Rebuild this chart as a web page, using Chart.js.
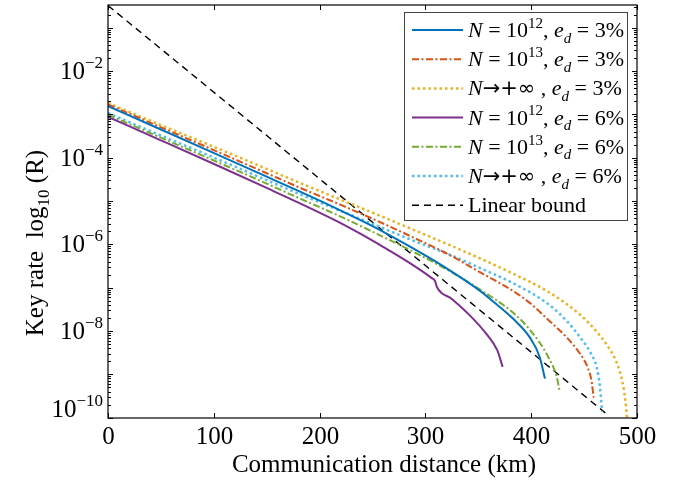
<!DOCTYPE html>
<html>
<head>
<meta charset="utf-8">
<script src="https://cdn.jsdelivr.net/npm/chart.js"></script>
<style>
  html, body { margin: 0; padding: 0; background: #fff; }
  canvas { display: block; }
</style>
</head>
<body>
<canvas id="keyRate" width="685" height="483"></canvas>
<script>
// distances (km) and log10 of key rate
const distBlue = [0, 50, 106, 150, 181, 219, 250, 288, 323, 352, 364, 383, 399, 408, 413];
const logBlue = [-2.81, -3.35, -3.96, -4.44, -4.78, -5.21, -5.58, -6.09, -6.60, -7.08, -7.32, -7.72, -8.16, -8.60, -9.10];

const distRed = [0, 50, 106, 150, 181, 219, 260, 290, 323, 352, 383, 400, 415, 434, 446, 453, 457, 459];
const logRed = [-2.77, -3.30, -3.89, -4.36, -4.69, -5.08, -5.52, -5.86, -6.25, -6.65, -7.08, -7.38, -7.72, -8.16, -8.52, -8.82, -9.15, -9.54];

const distOrange = [0, 50, 106, 150, 181, 219, 260, 290, 323, 352, 383, 415, 446, 462, 472, 481, 486, 489, 491];
const logOrange = [-2.74, -3.25, -3.81, -4.26, -4.58, -4.96, -5.37, -5.68, -6.02, -6.33, -6.68, -7.08, -7.62, -8.02, -8.34, -8.74, -9.15, -9.60, -10.1];

const distPurple = [0, 50, 106, 150, 181, 219, 238, 260, 285, 306, 309, 311, 325, 342, 358, 368, 373];
const logPurple = [-3.06, -3.60, -4.21, -4.70, -5.05, -5.50, -5.75, -6.06, -6.43, -6.78, -6.84, -6.99, -7.26, -7.64, -8.08, -8.45, -8.83];

const distGreen = [0, 50, 106, 150, 181, 219, 250, 290, 323, 352, 383, 399, 415, 424, 427];
const logGreen = [-3.01, -3.54, -4.13, -4.60, -4.94, -5.35, -5.71, -6.19, -6.62, -7.05, -7.58, -7.98, -8.55, -9.05, -9.40];

const distCyan = [0, 50, 106, 150, 181, 219, 260, 290, 323, 352, 383, 415, 434, 446, 456, 462, 465, 467];
const logCyan = [-2.97, -3.49, -4.06, -4.52, -4.84, -5.22, -5.63, -5.93, -6.24, -6.55, -6.90, -7.36, -7.78, -8.14, -8.50, -8.85, -9.30, -9.86];

const distLinear = [0, 470];
const logLinear = [-0.49, -9.89];

const seriesLabels = [
  '{i:N} = 10{sup:12}, {i:e}{isub:d} = 3%',
  '{i:N} = 10{sup:13}, {i:e}{isub:d} = 3%',
  '{i:N}{sym:\u2192+\u221e} , {i:e}{isub:d} = 3%',
  '{i:N} = 10{sup:12}, {i:e}{isub:d} = 6%',
  '{i:N} = 10{sup:13}, {i:e}{isub:d} = 6%',
  '{i:N}{sym:\u2192+\u221e} , {i:e}{isub:d} = 6%',
  'Linear bound'
];

const xTickValues = [0, 100, 200, 300, 400, 500];
const yLabelExps = [-10, -8, -6, -4, -2];

const SERIF = '"Liberation Serif", "DejaVu Serif", serif';

function pts(d, l) {
  return d.map((x, i) => ({x: x, y: Math.pow(10, l[i])}));
}

const dashDot = [7, 2.5, 2, 2.5];
const dotted = [2.5, 3];

const datasets = [
  {data: pts(distBlue, logBlue), borderColor: '#0072BD', borderWidth: 2},
  {data: pts(distRed, logRed), borderColor: '#D95319', borderWidth: 2, borderDash: dashDot},
  {data: pts(distOrange, logOrange), borderColor: '#EDB120', borderWidth: 2.5, borderDash: dotted},
  {data: pts(distPurple, logPurple), borderColor: '#7E2F8E', borderWidth: 2},
  {data: pts(distGreen, logGreen), borderColor: '#77AC30', borderWidth: 2, borderDash: dashDot},
  {data: pts(distCyan, logCyan), borderColor: '#4DBEEE', borderWidth: 2.5, borderDash: dotted},
  {data: pts(distLinear, logLinear), borderColor: '#000000', borderWidth: 1.4, borderDash: [7, 5]}
];
datasets.forEach((ds, i) => {
  ds.label = seriesLabels[i].replace(/\{\w+:([^}]*)\}/g, '$1');
  ds.pointRadius = 0;
  ds.fill = false;
  ds.cubicInterpolationMode = 'monotone';
});

// split "{style:text}" markup into drawable pieces
function parseLabel(s) {
  const out = [];
  const re = /\{(\w+):([^}]*)\}/g;
  let last = 0, m;
  while ((m = re.exec(s))) {
    if (m.index > last) out.push({t: s.slice(last, m.index), k: 'n'});
    out.push({t: m[2], k: m[1]});
    last = re.lastIndex;
  }
  if (last < s.length) out.push({t: s.slice(last), k: 'n'});
  return out;
}

function drawPieces(ctx, pieces, x, y, size, measureOnly) {
  pieces.forEach(p => {
    let font = size + 'px ' + SERIF, dy = 0;
    if (p.k === 'i') font = 'italic ' + size + 'px ' + SERIF;
    if (p.k === 'sym') font = (size - 1) + 'px "DejaVu Sans", sans-serif';
    if (p.k === 'sup') { font = Math.round(size * 0.68) + 'px ' + SERIF; dy = -size * 0.42; }
    if (p.k === 'sub') { font = Math.round(size * 0.68) + 'px ' + SERIF; dy = size * 0.25; }
    if (p.k === 'isub') { font = 'italic ' + Math.round(size * 0.68) + 'px ' + SERIF; dy = size * 0.25; }
    ctx.font = font;
    if (!measureOnly) ctx.fillText(p.t, x, y + dy);
    x += ctx.measureText(p.t).width;
  });
  return x;
}

const framePlugin = {
  id: 'frame',
  afterDraw(chart) {
    const ctx = chart.ctx;
    const a = chart.chartArea;
    const xs = chart.scales.x, ys = chart.scales.y;
    ctx.save();
    ctx.strokeStyle = '#000';
    ctx.fillStyle = '#000';
    ctx.lineWidth = 1.2;
    ctx.setLineDash([]);
    ctx.strokeRect(a.left, a.top, a.right - a.left, a.bottom - a.top);

    function seg(x1, y1, x2, y2) {
      ctx.beginPath(); ctx.moveTo(x1, y1); ctx.lineTo(x2, y2); ctx.stroke();
    }

    // x ticks and labels
    ctx.lineWidth = 1;
    ctx.textAlign = 'center';
    ctx.textBaseline = 'alphabetic';
    ctx.font = '25px ' + SERIF;
    xs.ticks.forEach(t => {
      const px = Math.round(xs.getPixelForValue(t.value)) + 0.5;
      seg(px, a.bottom, px, a.bottom - 5);
      seg(px, a.top, px, a.top + 5);
      ctx.fillText(String(t.value), px, a.bottom + 26);
    });

    // y ticks: decades long, 2..9 short
    for (let e = -11; e <= 0; e++) {
      for (let m = 1; m <= 9; m++) {
        const v = m * Math.pow(10, e);
        if (v < ys.min || v > ys.max) continue;
        const py = Math.round(ys.getPixelForValue(v)) + 0.5;
        const len = m === 1 ? 5 : 3;
        seg(a.left, py, a.left + len, py);
        seg(a.right, py, a.right - len, py);
      }
    }

    // y labels 10^n
    yLabelExps.forEach(e => {
      let py = ys.getPixelForValue(Math.pow(10, e));
      py = Math.min(py, a.bottom - 9);
      const exp = '\u2212' + Math.abs(e);
      ctx.font = '17px ' + SERIF;
      const ew = ctx.measureText(exp).width;
      ctx.font = '25px ' + SERIF;
      const bw = ctx.measureText('10').width;
      const right = a.left - 5;
      ctx.textAlign = 'left';
      ctx.fillText('10', right - ew - bw, py + 8);
      ctx.font = '17px ' + SERIF;
      ctx.fillText(exp, right - ew, py - 3);
    });

    // axis titles
    ctx.textAlign = 'left';
    ctx.font = '25px ' + SERIF;
    const xt = 'Communication distance (km)';
    const xw = ctx.measureText(xt).width;
    ctx.fillText(xt, 384 - xw / 2, 472);

    const yPieces = parseLabel('Key rate  log{sub:10} (R)');
    const yw = drawPieces(ctx, yPieces, 0, 0, 25, true);
    ctx.save();
    ctx.translate(43, 243);
    ctx.rotate(-Math.PI / 2);
    drawPieces(ctx, yPieces, -yw / 2, 0, 25, false);
    ctx.restore();

    // legend box
    const lx = 404, ly = 12, lw = 223, lh = 208;
    ctx.fillStyle = '#fff';
    ctx.fillRect(lx, ly, lw, lh);
    ctx.strokeStyle = '#444';
    ctx.lineWidth = 1;
    ctx.strokeRect(lx + 0.5, ly + 0.5, lw, lh);
    chart.data.datasets.forEach((ds, i) => {
      const cy = 30 + i * 29.2;
      ctx.strokeStyle = ds.borderColor;
      ctx.lineWidth = ds.borderWidth;
      ctx.setLineDash(ds.borderDash || []);
      seg(412, cy, 463, cy);
      ctx.setLineDash([]);
      ctx.fillStyle = '#000';
      ctx.textAlign = 'left';
      drawPieces(ctx, parseLabel(seriesLabels[i]), 468, cy + 7, 22, false);
    });
    ctx.restore();
  }
};

new Chart(document.getElementById('keyRate'), {
  type: 'line',
  data: {datasets: datasets},
  options: {
    responsive: false,
    animation: false,
    devicePixelRatio: 1,
    layout: {padding: {left: 0, top: 5, right: 48, bottom: 0}},
    scales: {
      x: {
        type: 'linear', min: 0, max: 500,
        grid: {display: false}, border: {display: false},
        ticks: {display: false},
        afterBuildTicks: s => { s.ticks = xTickValues.map(v => ({value: v})); },
        afterFit: s => { s.height = 65; }
      },
      y: {
        type: 'logarithmic', min: 9.8e-11, max: 0.333,
        grid: {display: false}, border: {display: false},
        ticks: {display: false},
        afterFit: s => { s.width = 108; }
      }
    },
    plugins: {legend: {display: false}, tooltip: {enabled: false}}
  },
  plugins: [framePlugin]
});
</script>
</body>
</html>
